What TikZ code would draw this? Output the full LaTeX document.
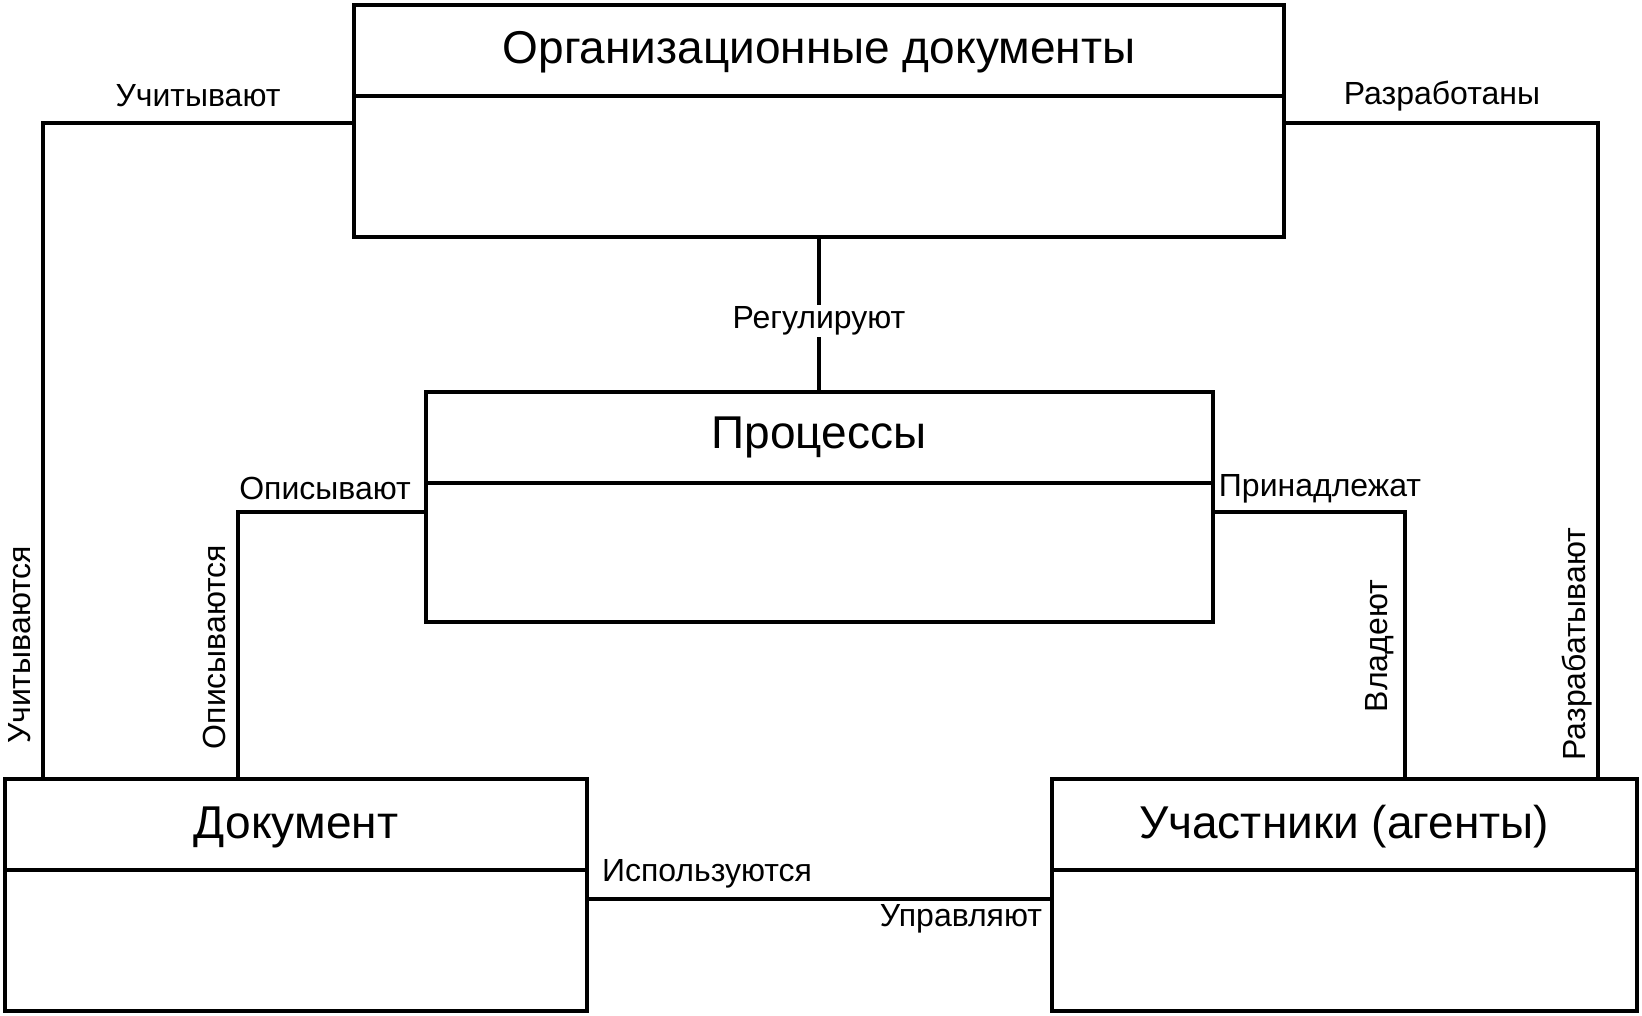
\documentclass[tikz,border=0pt]{standalone}
\usepackage{fontspec}
\setmainfont{Liberation Sans}
\begin{document}
\begin{tikzpicture}[x=1pt,y=-1pt,
  box/.style={draw,line width=4pt,rectangle,anchor=north west,inner sep=0pt,outer sep=0pt},
  ttl/.style={font=\fontsize{46}{52}\selectfont,inner sep=0pt},
  lbl/.style={font=\fontsize{32}{36}\selectfont,inner sep=2pt},
  conn/.style={line width=4pt}]
\useasboundingbox[fill=white] (0,0) rectangle (1642,1016);
% boxes
\node[box,minimum width=930pt,minimum height=232pt] (org) at (354,5) {};
\node[box,minimum width=787pt,minimum height=230pt] (proc) at (426,392) {};
\node[box,minimum width=582pt,minimum height=232pt] (doc) at (5,779) {};
\node[box,minimum width=585pt,minimum height=232pt] (part) at (1052,779) {};
% dividers
\draw[conn] (org.west |- 0,96) -- (org.east |- 0,96);
\draw[conn] (proc.west |- 0,483) -- (proc.east |- 0,483);
\draw[conn] (doc.west |- 0,870) -- (doc.east |- 0,870);
\draw[conn] (part.west |- 0,870) -- (part.east |- 0,870);
% titles
\node[ttl] (torg) at (819,52) {Организационные документы};
\node[ttl] (tproc) at (819,437) {Процессы};
\node[ttl] (tdoc) at (296,827) {Документ};
\node[ttl] (tpart) at (1344,827) {Участники (агенты)};
% connector corners
\coordinate (cl) at (43,779);
\coordinate (cr) at (1598,779);
\coordinate (co) at (238,779);
\coordinate (cp) at (1405,779);
% connectors
\draw[conn] ([yshift=-2pt]org.west) -| (cl);
\draw[conn] ([yshift=-2pt]org.east) -| (cr);
\draw[conn] (org.south -| 819,0) -- (proc.north -| 819,0);
\draw[conn] ([yshift=-5pt]proc.west) -| (co);
\draw[conn] ([yshift=-5pt]proc.east) -| (cp);
\draw[conn] ([yshift=-4pt]doc.east) -- ([yshift=-4pt]doc.east -| part.west);
% labels
\node[lbl] (l1) at (198,96) {Учитывают};
\node[lbl] (l2) at (1442,96) {Разработаны};
\node[lbl,fill=white] (l3) at (819,321) {Регулируют};
\node[lbl] (l4) at (325,488) {Описывают};
\node[lbl] (l5) at (1320,489) {Принадлежат};
\node[lbl,rotate=90] (l6) at (20,645) {Учитываются};
\node[lbl,rotate=90] (l7) at (214,647) {Описываются};
\node[lbl,rotate=90] (l8) at (1380,646) {Владеют};
\node[lbl,rotate=90] (l9) at (1577,644) {Разрабатывают};
\node[lbl] (l10) at (707,874) {Используются};
\node[lbl] (l11) at (961,919) {Управляют};
\end{tikzpicture}
\end{document}
